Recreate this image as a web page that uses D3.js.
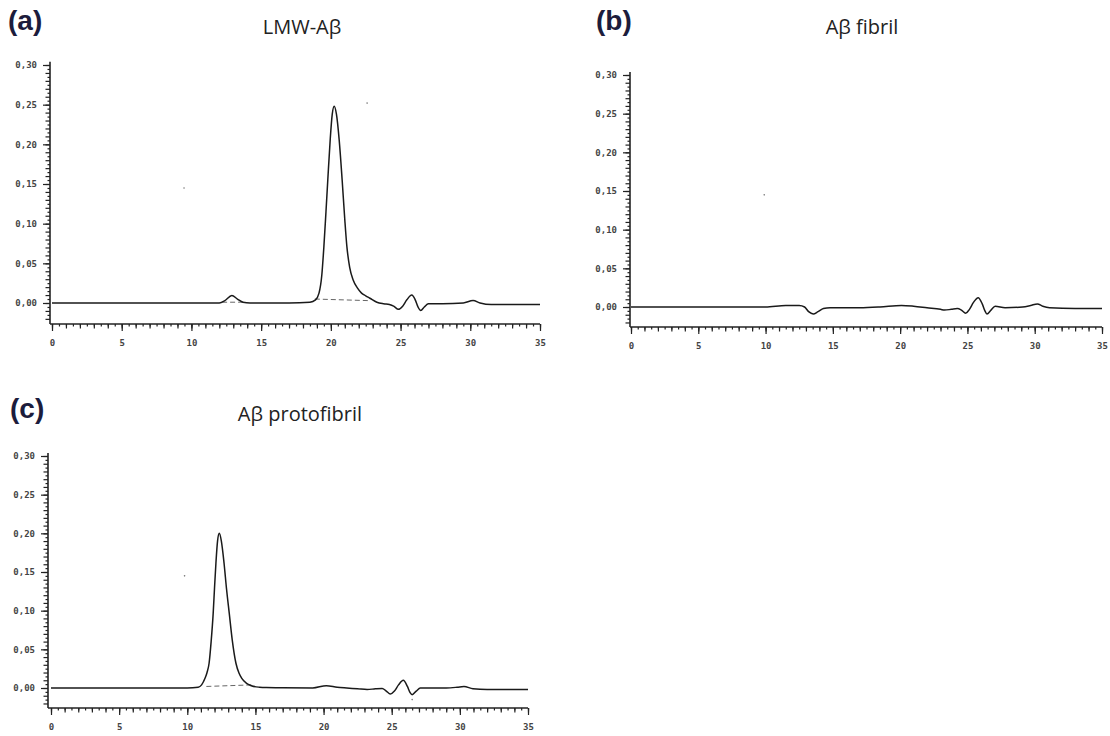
<!DOCTYPE html>
<html>
<head>
<meta charset="utf-8">
<script src="https://cdn.jsdelivr.net/npm/d3@7"></script>
<style>
  body { margin: 0; background: #fff; }
  .tick text { font-family: 'DejaVu Sans Mono', monospace; font-size: 9px; font-weight: bold; fill: #444; }
  .tick line { stroke: #222; stroke-width: 1.2; }
</style>
</head>
<body>
<svg id="chart" width="1110" height="736"></svg>
<script>
// tick values
const xLabels = [0, 5, 10, 15, 20, 25, 30, 35];
const yLabels = [0, 0.05, 0.1, 0.15, 0.2, 0.25, 0.3];

// absorbance traces: [time, absorbance]
const lmwTrace = [
  [0, 0], [5, 0], [10, 0], [12.0, 0], [12.4, 0.003], [12.9, 0.0095], [13.3, 0.005], [13.7, 0.001],
  [14.2, 0], [17, 0], [18.5, 0.001], [18.9, 0.004], [19.15, 0.0125], [19.35, 0.035], [19.5, 0.071],
  [19.65, 0.115], [19.78, 0.155], [19.95, 0.205], [20.1, 0.238], [20.24, 0.248], [20.4, 0.238],
  [20.6, 0.205], [20.81, 0.155], [21.0, 0.105], [21.15, 0.071], [21.35, 0.045], [21.6, 0.029],
  [21.9, 0.019], [22.2, 0.0125], [22.5, 0.009], [22.8, 0.006], [23.3, 0.001], [23.8, -0.001],
  [24.2, -0.002], [24.5, -0.004], [24.85, -0.008], [25.15, -0.004], [25.45, 0.004], [25.8, 0.01],
  [26.05, 0.004], [26.25, -0.005], [26.45, -0.0095], [26.7, -0.005], [27.0, -0.001], [28, -0.001],
  [29.5, 0], [30.2, 0.003], [30.7, 0], [31.5, -0.002], [35, -0.002]
];
const fibrilTrace = [
  [0, 0], [5, 0], [10, 0], [11.5, 0.002], [12.5, 0.002], [12.9, 0], [13.2, -0.006], [13.54, -0.009],
  [13.9, -0.006], [14.3, -0.002], [14.8, -0.001], [17, -0.001], [18.5, 0], [20.1, 0.002], [21, 0.001],
  [22, -0.001], [23.0, -0.003], [23.3, -0.004], [23.8, -0.003], [24.25, -0.002], [24.55, -0.004],
  [24.87, -0.008], [25.15, -0.003], [25.45, 0.006], [25.8, 0.012], [26.1, 0.004], [26.3, -0.005],
  [26.45, -0.009], [26.75, -0.004], [27.06, 0.001], [27.8, -0.001], [29.1, 0], [29.7, 0.002],
  [30.2, 0.004], [30.6, 0.001], [31.1, -0.001], [33, -0.002], [35, -0.002]
];
const protoTrace = [
  [0, 0], [5, 0], [10, 0], [10.8, 0.001], [11.05, 0.004], [11.3, 0.0125], [11.45, 0.02], [11.6, 0.032],
  [11.75, 0.06], [11.9, 0.0965], [12.0, 0.13], [12.1, 0.161], [12.22, 0.19], [12.35, 0.2],
  [12.5, 0.19], [12.7, 0.161], [12.88, 0.128], [13.08, 0.0965], [13.3, 0.062], [13.57, 0.032],
  [13.8, 0.019], [14.0, 0.0125], [14.35, 0.006], [14.7, 0.003], [15.3, 0.001], [15.8, 0.0005],
  [17, 0.0003], [19.2, 0], [20.2, 0.003], [21.0, 0.001], [21.7, 0], [22.5, -0.001], [23.2, -0.002],
  [23.8, -0.001], [24.3, -0.0005], [24.6, -0.004], [24.9, -0.0078], [25.2, -0.004], [25.5, 0.004],
  [25.85, 0.01], [26.15, 0.002], [26.35, -0.006], [26.5, -0.0086], [26.8, -0.004], [27.1, 0],
  [29, 0], [29.8, 0.001], [30.3, 0.002], [30.96, -0.001], [32, -0.002], [35, -0.002]
];

// integration baselines drawn dashed under the peaks
const lmwBaselines = [[[12.2, 0.001], [13.9, 0.001]], [[18.85, 0.005], [22.7, 0.003]]];
const fibrilBaselines = [];
const protoBaselines = [[[11.4, 0.002], [14.7, 0.004]]];

// stray specks from the scan
const lmwSpecks = [[9.47, 0.145], [22.6, 0.252]];
const fibrilSpecks = [[9.9, 0.145]];
const protoSpecks = [[9.8, 0.145], [26.5, -0.015]];

const panels = [
  { label: '(a)', title: 'LMW-Aβ', trace: lmwTrace, baselines: lmwBaselines, specks: lmwSpecks,
    x0: 52, x1: 540, yAxisX: 50, zeroY: 303, topY: 65, axisY: 324,
    labelX: 8, labelY: 30, titleX: 302, titleY: 34 },
  { label: '(b)', title: 'Aβ fibril', trace: fibrilTrace, baselines: fibrilBaselines, specks: fibrilSpecks,
    x0: 631, x1: 1102, yAxisX: 630, zeroY: 307, topY: 75, axisY: 327,
    labelX: 596, labelY: 30, titleX: 862, titleY: 34 },
  { label: '(c)', title: 'Aβ protofibril', trace: protoTrace, baselines: protoBaselines, specks: protoSpecks,
    x0: 51, x1: 528, yAxisX: 48, zeroY: 688, topY: 456, axisY: 708,
    labelX: 10, labelY: 418, titleX: 300, titleY: 421 }
];

const svg = d3.select('#chart');
const commaFmt = (d) => d3.format('.2f')(d).replace('.', ',');

panels.forEach(drawPanel);

function drawPanel(p) {
  const g = svg.append('g');
  const x = d3.scaleLinear().domain([0, 35]).range([p.x0, p.x1]);
  const y = d3.scaleLinear().domain([0, 0.3]).range([p.zeroY, p.topY]);

  // y axis: minor ticks every 0.005, medium every 0.01, labelled every 0.05
  const yMinor = d3.range(0, 61).map((i) => i * 0.005).filter((v) => Math.round(v * 1000) % 10 !== 0);
  const yMid = d3.range(0, 31).map((i) => i * 0.01);
  const yg = g.append('g').attr('transform', `translate(${p.yAxisX},0)`);
  yg.append('g').call(d3.axisLeft(y).tickValues(yMinor.concat([-0.005, -0.015])).tickSize(2.5).tickFormat(''));
  yg.append('g').call(d3.axisLeft(y).tickValues(yMid.concat([-0.01, -0.02])).tickSize(4.5).tickFormat(''));
  yg.append('g').call(d3.axisLeft(y).tickValues(yLabels).tickSize(7).tickPadding(6).tickFormat(commaFmt));
  yg.selectAll('.domain').remove();
  yg.append('line')
    .attr('x1', 0).attr('x2', 0)
    .attr('y1', p.axisY).attr('y2', y(0.304))
    .attr('stroke', '#222').attr('stroke-width', 1.6);

  // x axis: ticks every 0.5, longer at integers, longest at labels
  const xMinor = d3.range(0, 71).map((i) => i * 0.5);
  const xg = g.append('g').attr('transform', `translate(0,${p.axisY})`);
  xg.append('g').call(d3.axisBottom(x).tickValues(xMinor).tickSize(2.5).tickFormat(''));
  xg.append('g').call(d3.axisBottom(x).tickValues(d3.range(0, 36)).tickSize(4.5).tickFormat(''));
  xg.append('g').call(d3.axisBottom(x).tickValues(xLabels).tickSize(7).tickPadding(9).tickFormat(d3.format('d')));
  xg.selectAll('.domain').remove();
  xg.append('line')
    .attr('x1', p.yAxisX).attr('x2', x(35))
    .attr('y1', 0).attr('y2', 0)
    .attr('stroke', '#222').attr('stroke-width', 1.6);

  // dashed integration baselines
  const line = d3.line().x((d) => x(d[0])).y((d) => y(d[1]));
  g.selectAll('.base')
    .data(p.baselines)
    .join('path')
    .attr('d', line)
    .attr('fill', 'none')
    .attr('stroke', '#666')
    .attr('stroke-width', 1)
    .attr('stroke-dasharray', '5,3');

  // chromatogram trace
  g.append('path')
    .datum(p.trace)
    .attr('d', line.curve(d3.curveMonotoneX))
    .attr('fill', 'none')
    .attr('stroke', '#1a1a1a')
    .attr('stroke-width', 1.5);

  g.selectAll('.speck')
    .data(p.specks)
    .join('circle')
    .attr('cx', (d) => x(d[0]))
    .attr('cy', (d) => y(d[1]))
    .attr('r', 0.8)
    .attr('fill', '#777');

  g.append('text')
    .attr('x', p.labelX).attr('y', p.labelY)
    .attr('font-family', 'Liberation Sans, Arial, sans-serif')
    .attr('font-weight', 'bold')
    .attr('font-size', 28)
    .attr('fill', '#1c1c3c')
    .text(p.label);

  g.append('text')
    .attr('x', p.titleX).attr('y', p.titleY)
    .attr('text-anchor', 'middle')
    .attr('font-family', 'Open Sans, sans-serif')
    .attr('font-size', 20)
    .attr('fill', '#222')
    .text(p.title);
}
</script>
</body>
</html>
